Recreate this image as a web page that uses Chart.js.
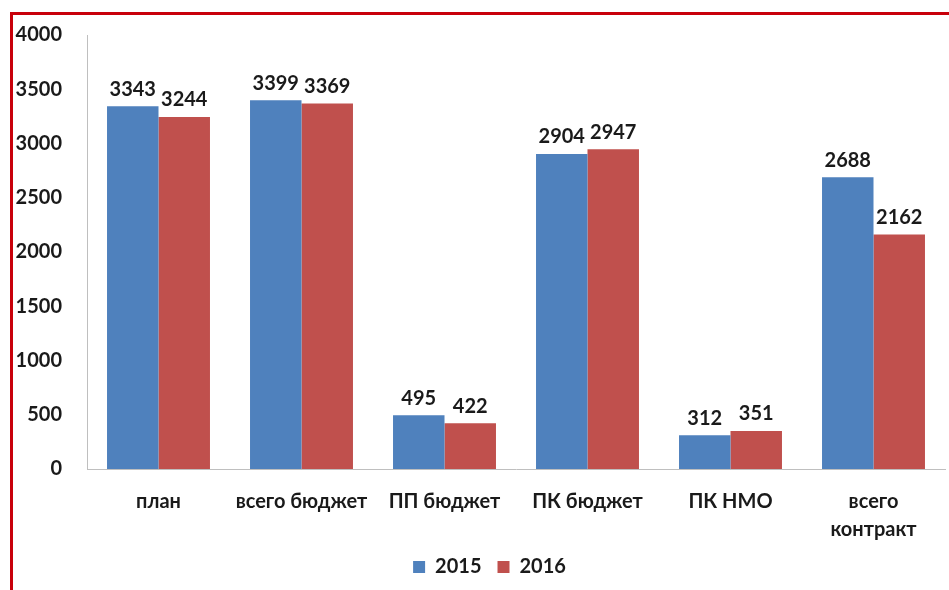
<!DOCTYPE html>
<html>
<head>
<meta charset="utf-8">
<script src="https://cdn.jsdelivr.net/npm/chart.js@4"></script>
<style>
  body { margin: 0; background: #fff; }
  #wrap { position: relative; width: 949px; height: 590px; }
  #frame { position: absolute; left: 10px; top: 12px; right: -10px; bottom: -10px; border-left: 3px solid #c8000a; border-top: 3px solid #c8000a; }
  canvas { position: absolute; left: 0; top: 0; }
</style>
</head>
<body>
<div id="wrap">
  <div id="frame"></div>
  <canvas id="chart" width="949" height="590"></canvas>
</div>
<script>
const categories = ["план", "всего бюджет", "ПП бюджет", "ПК бюджет", "ПК НМО", ["всего", "контракт"]];
const values2015 = [3343, 3399, 495, 2904, 312, 2688];
const values2016 = [3244, 3369, 422, 2947, 351, 2162];
const seriesNames = ["2015", "2016"];

const fontFamily = "Lato, 'Open Sans', sans-serif";

const valueLabels = {
  id: "valueLabels",
  afterDatasetsDraw(chart) {
    const ctx = chart.ctx;
    ctx.save();
    ctx.font = "bold 20px " + fontFamily;
    ctx.fillStyle = "#1a1a1a";
    ctx.textAlign = "center";
    ctx.textBaseline = "bottom";
    chart.data.datasets.forEach((ds, i) => {
      chart.getDatasetMeta(i).data.forEach((bar, j) => {
        ctx.fillText(ds.data[j], bar.x, bar.y - 7);
      });
    });
    ctx.restore();
  },
};

// nudge the legend a little right, like the original
const legendShift = {
  id: "legendShift",
  afterLayout(chart) {
    chart.legend.left += 12;
    chart.legend.right += 12;
  },
};

new Chart(document.getElementById("chart"), {
  type: "bar",
  data: {
    labels: categories,
    datasets: [
      { label: seriesNames[0], data: values2015, backgroundColor: "#4f81bd" },
      { label: seriesNames[1], data: values2016, backgroundColor: "#c0504d" },
    ],
  },
  options: {
    responsive: false,
    animation: false,
    layout: { padding: { top: 35, left: 10, right: 4, bottom: 3 } },
    datasets: { bar: { categoryPercentage: 0.72, barPercentage: 1 } },
    plugins: {
      tooltip: { enabled: false },
      legend: {
        position: "bottom",
        labels: {
          boxWidth: 12,
          boxHeight: 12,
          padding: 16,
          color: "#1a1a1a",
          font: { family: fontFamily, size: 20, weight: "bold" },
        },
      },
    },
    scales: {
      x: {
        grid: { display: false },
        border: { color: "#bfbfbf" },
        ticks: {
          color: "#1a1a1a",
          padding: 11,
          maxRotation: 0,
          font: { family: fontFamily, size: 20, weight: "bold", lineHeight: 1.4 },
        },
        afterFit(scale) { scale.height = 72; },
      },
      y: {
        min: 0,
        max: 4000,
        grid: { display: false },
        border: { color: "#bfbfbf" },
        ticks: {
          stepSize: 500,
          color: "#1a1a1a",
          padding: 17,
          font: { family: fontFamily, size: 20, weight: "bold" },
          callback: (v) => String(v),
        },
        afterFit(scale) { scale.width = 77; },
      },
    },
  },
  plugins: [valueLabels, legendShift],
});
</script>
</body>
</html>
